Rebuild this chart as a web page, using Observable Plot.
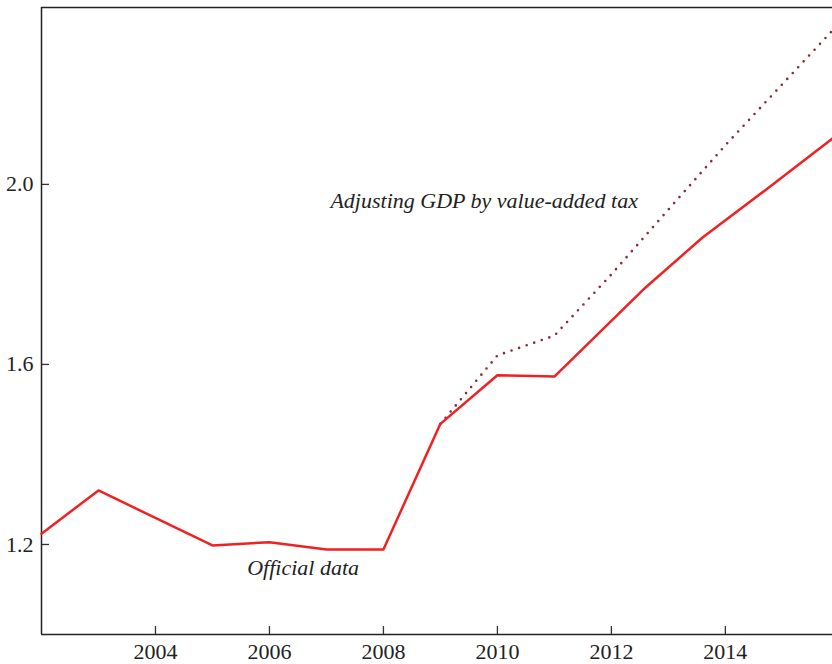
<!DOCTYPE html>
<html>
<head>
<meta charset="utf-8">
<script src="https://cdn.jsdelivr.net/npm/d3@7"></script>
<script src="https://cdn.jsdelivr.net/npm/@observablehq/plot@0.6"></script>
<style>
  html, body { margin: 0; padding: 0; background: #fff; }
  svg { display: block; }
</style>
</head>
<body>
<div id="chart"></div>
<script>
// Official data
const officialYears  = [2002, 2003, 2005, 2006, 2007, 2008, 2009, 2010, 2011, 2012.6, 2013.6, 2014.7, 2015.88];
const officialValues = [1.224, 1.32, 1.198, 1.205, 1.189, 1.189, 1.468, 1.576, 1.573, 1.771, 1.882, 1.987, 2.102];
// Adjusting GDP by value-added tax
const adjustedYears  = [2009, 2010, 2011, 2012, 2013, 2014, 2015.88];
const adjustedValues = [1.468, 1.62, 1.664, 1.80, 1.944, 2.087, 2.342];

const xTicks = [2004, 2006, 2008, 2010, 2012, 2014];
const yTicks = [1.2, 1.6, 2.0];
const xDomain = [2002, 2015.88];
const yDomain = [1.0, 2.393];

const labelTexts  = ["Adjusting GDP by value-added tax", "Official data"];
const labelYears  = [2007.07, 2005.61];
const labelValues = [1.947, 1.133];

const official = officialYears.map((x, i) => ({x, y: officialValues[i]}));
const adjusted = adjustedYears.map((x, i) => ({x, y: adjustedValues[i]}));
const labels = labelTexts.map((t, i) => ({t, x: labelYears[i], y: labelValues[i]}));

const chart = Plot.plot({
  width: 832,
  height: 664,
  marginLeft: 41,
  marginRight: 0,
  marginTop: 7,
  marginBottom: 30,
  style: {fontFamily: "Liberation Serif", fontSize: "22px", color: "#222", background: "#fff"},
  x: {domain: xDomain},
  y: {domain: yDomain},
  marks: [
    Plot.axisX({ticks: xTicks, tickFormat: d => String(d), tickSize: -8, tickPadding: 17, stroke: "#333", strokeWidth: 1.3, fill: "#222", label: null}),
    Plot.axisY({ticks: yTicks, tickFormat: d => d.toFixed(1), tickSize: -8, tickPadding: 16, stroke: "#333", strokeWidth: 1.3, fill: "#222", label: null}),
    Plot.ruleY([yDomain[0], yDomain[1]], {stroke: "#222", strokeWidth: 1.5}),
    Plot.ruleX([xDomain[0]], {stroke: "#222", strokeWidth: 1.5}),
    Plot.line(adjusted, {x: "x", y: "y", stroke: "#8b2a3a", strokeWidth: 2.6, strokeDasharray: "0 8", strokeLinecap: "round"}),
    Plot.line(official, {x: "x", y: "y", stroke: "#ee2222", strokeWidth: 2.5}),
    Plot.text(labels, {x: "x", y: "y", text: "t", textAnchor: "start", lineAnchor: "bottom", fontStyle: "italic", fontSize: 22, fill: "#222"})
  ]
});
document.getElementById("chart").appendChild(chart);
</script>
</body>
</html>
